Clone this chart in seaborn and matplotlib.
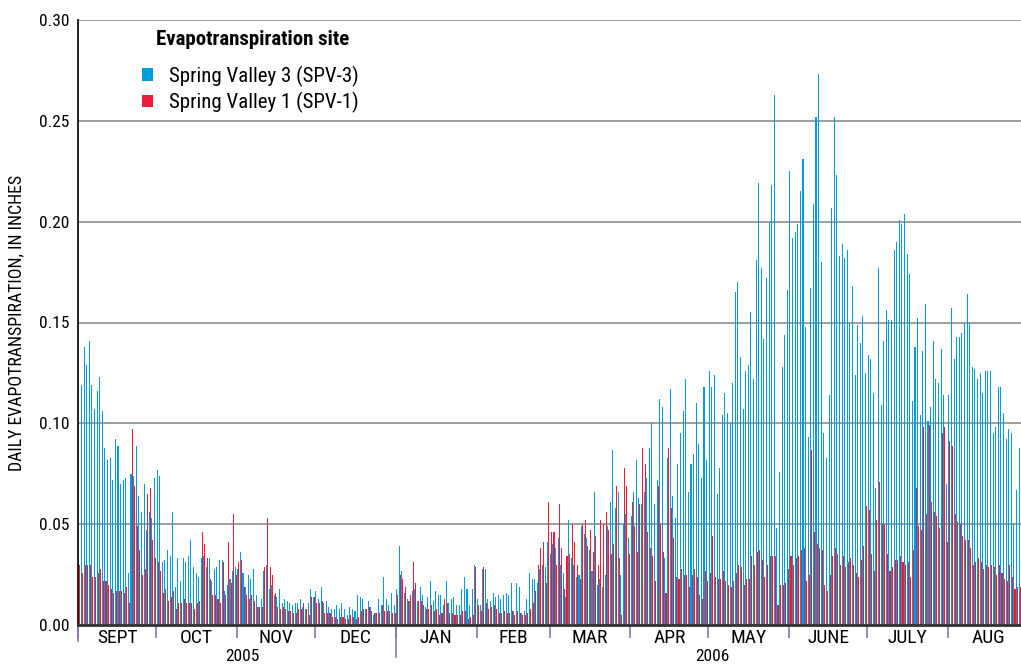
import numpy as np
import pandas as pd
import matplotlib
matplotlib.use("Agg")
import matplotlib.pyplot as plt
import matplotlib.transforms as mtransforms
from matplotlib import font_manager as fm
from matplotlib.patches import Patch
import seaborn as sns

# ---- daily evapotranspiration, inches (Sept 1, 2005 - Aug 28, 2006) ----
spv3_sep = [0.136, 0.119, 0.138, 0.129, 0.141, 0.119, 0.107, 0.116, 0.123, 0.106,
            0.088, 0.082, 0.083, 0.072, 0.092, 0.089, 0.070, 0.072, 0.073, 0.026,
            0.075, 0.074, 0.089, 0.064, 0.056, 0.070, 0.047, 0.056, 0.053, 0.073]
spv3_oct = [0.077, 0.074, 0.031, 0.032, 0.037, 0.034, 0.056, 0.019, 0.033, 0.022,
            0.033, 0.031, 0.034, 0.042, 0.029, 0.026, 0.024, 0.033, 0.034, 0.029,
            0.033, 0.022, 0.028, 0.029, 0.032, 0.032, 0.017, 0.020, 0.023, 0.027, 0.029]
spv3_nov = [0.028, 0.036, 0.026, 0.019, 0.025, 0.023, 0.028, 0.015, 0.009, 0.013,
            0.027, 0.030, 0.018, 0.020, 0.015, 0.014, 0.018, 0.011, 0.013, 0.012,
            0.011, 0.010, 0.011, 0.011, 0.013, 0.009, 0.008, 0.011, 0.018, 0.014]
spv3_dec = [0.017, 0.013, 0.019, 0.011, 0.012, 0.009, 0.008, 0.008, 0.010, 0.008,
            0.011, 0.008, 0.005, 0.009, 0.008, 0.007, 0.015, 0.014, 0.013, 0.008,
            0.012, 0.009, 0.005, 0.006, 0.013, 0.010, 0.024, 0.013, 0.010, 0.016, 0.010]
spv3_jan = [0.018, 0.039, 0.027, 0.016, 0.013, 0.012, 0.017, 0.018, 0.012, 0.019,
            0.015, 0.009, 0.014, 0.022, 0.012, 0.017, 0.015, 0.015, 0.010, 0.022,
            0.011, 0.013, 0.014, 0.010, 0.010, 0.018, 0.024, 0.018, 0.010, 0.018, 0.030]
spv3_feb = [0.013, 0.010, 0.028, 0.028, 0.013, 0.012, 0.016, 0.014, 0.015, 0.013,
            0.015, 0.016, 0.015, 0.021, 0.007, 0.021, 0.019, 0.006, 0.007, 0.013,
            0.026, 0.023, 0.023, 0.021, 0.028, 0.030, 0.029, 0.041]
spv3_mar = [0.035, 0.040, 0.038, 0.043, 0.030, 0.026, 0.014, 0.052, 0.033, 0.030,
            0.024, 0.025, 0.049, 0.045, 0.043, 0.037, 0.027, 0.066, 0.020, 0.023,
            0.019, 0.025, 0.049, 0.061, 0.087, 0.058, 0.066, 0.025, 0.050, 0.055, 0.043]
spv3_apr = [0.054, 0.066, 0.082, 0.063, 0.060, 0.066, 0.073, 0.088, 0.100, 0.060,
            0.072, 0.112, 0.108, 0.033, 0.083, 0.117, 0.064, 0.053, 0.080, 0.095,
            0.106, 0.122, 0.066, 0.080, 0.085, 0.110, 0.090, 0.073, 0.118, 0.082]
spv3_may = [0.126, 0.118, 0.124, 0.065, 0.078, 0.104, 0.115, 0.105, 0.100, 0.120,
            0.165, 0.170, 0.133, 0.107, 0.126, 0.129, 0.155, 0.122, 0.181, 0.219,
            0.177, 0.142, 0.172, 0.200, 0.218, 0.263, 0.048, 0.076, 0.128, 0.144, 0.166]
spv3_jun = [0.225, 0.192, 0.195, 0.199, 0.215, 0.231, 0.148, 0.093, 0.167, 0.209,
            0.252, 0.273, 0.180, 0.095, 0.083, 0.114, 0.207, 0.252, 0.223, 0.183,
            0.189, 0.182, 0.186, 0.150, 0.168, 0.124, 0.149, 0.140, 0.153, 0.125]
spv3_jul = [0.134, 0.132, 0.115, 0.068, 0.177, 0.109, 0.141, 0.156, 0.151, 0.151,
            0.186, 0.190, 0.201, 0.199, 0.204, 0.184, 0.174, 0.111, 0.138, 0.152,
            0.104, 0.136, 0.159, 0.101, 0.108, 0.141, 0.122, 0.120, 0.137, 0.114, 0.070]
spv3_aug = [0.114, 0.157, 0.132, 0.143, 0.143, 0.145, 0.150, 0.164, 0.150, 0.128,
            0.127, 0.122, 0.125, 0.115, 0.126, 0.126, 0.126, 0.095, 0.098, 0.118,
            0.118, 0.105, 0.092, 0.097, 0.095, 0.050, 0.067, 0.088]

spv1_sep = [0.030, 0.026, 0.030, 0.030, 0.030, 0.024, 0.024, 0.026, 0.028, 0.022,
            0.022, 0.020, 0.018, 0.016, 0.017, 0.017, 0.017, 0.016, 0.019, 0.011,
            0.097, 0.069, 0.049, 0.037, 0.025, 0.028, 0.065, 0.068, 0.042, 0.033]
spv1_oct = [0.031, 0.027, 0.016, 0.018, 0.012, 0.014, 0.017, 0.008, 0.011, 0.011,
            0.013, 0.011, 0.011, 0.011, 0.008, 0.011, 0.012, 0.046, 0.040, 0.033,
            0.023, 0.015, 0.015, 0.013, 0.011, 0.031, 0.015, 0.041, 0.021, 0.055, 0.025]
spv1_nov = [0.031, 0.032, 0.019, 0.015, 0.013, 0.015, 0.012, 0.009, 0.009, 0.009,
            0.029, 0.053, 0.029, 0.025, 0.016, 0.009, 0.008, 0.009, 0.008, 0.007,
            0.007, 0.006, 0.006, 0.008, 0.008, 0.011, 0.008, 0.005, 0.014, 0.014]
spv1_dec = [0.011, 0.011, 0.012, 0.006, 0.006, 0.006, 0.004, 0.004, 0.003, 0.004,
            0.004, 0.003, 0.003, 0.005, 0.004, 0.003, 0.004, 0.007, 0.008, 0.008,
            0.009, 0.007, 0.006, 0.006, 0.006, 0.010, 0.007, 0.007, 0.007, 0.006, 0.006]
spv1_jan = [0.015, 0.025, 0.023, 0.019, 0.012, 0.015, 0.031, 0.021, 0.012, 0.012,
            0.010, 0.008, 0.008, 0.010, 0.007, 0.008, 0.005, 0.006, 0.013, 0.011,
            0.006, 0.006, 0.005, 0.005, 0.005, 0.007, 0.007, 0.003, 0.004, 0.005, 0.029]
spv1_feb = [0.010, 0.007, 0.029, 0.011, 0.008, 0.009, 0.010, 0.008, 0.006, 0.006,
            0.007, 0.006, 0.006, 0.007, 0.005, 0.007, 0.006, 0.005, 0.005, 0.006,
            0.008, 0.011, 0.017, 0.030, 0.038, 0.041, 0.021, 0.061]
spv1_mar = [0.046, 0.046, 0.030, 0.060, 0.038, 0.018, 0.034, 0.035, 0.050, 0.041,
            0.030, 0.023, 0.050, 0.052, 0.039, 0.047, 0.036, 0.044, 0.030, 0.052,
            0.050, 0.056, 0.047, 0.035, 0.040, 0.069, 0.033, 0.005, 0.078, 0.069, 0.035]
spv1_apr = [0.061, 0.049, 0.036, 0.060, 0.088, 0.080, 0.046, 0.038, 0.034, 0.022,
            0.069, 0.050, 0.036, 0.016, 0.088, 0.058, 0.043, 0.024, 0.023, 0.028,
            0.025, 0.025, 0.019, 0.025, 0.028, 0.024, 0.015, 0.013, 0.027, 0.022]
spv1_may = [0.026, 0.044, 0.024, 0.023, 0.023, 0.027, 0.022, 0.020, 0.019, 0.022,
            0.026, 0.030, 0.029, 0.020, 0.023, 0.023, 0.034, 0.030, 0.036, 0.037,
            0.032, 0.024, 0.030, 0.034, 0.034, 0.034, 0.010, 0.020, 0.020, 0.021, 0.028]
spv1_jun = [0.034, 0.030, 0.033, 0.034, 0.037, 0.038, 0.022, 0.025, 0.087, 0.046,
            0.040, 0.038, 0.037, 0.020, 0.017, 0.025, 0.034, 0.038, 0.035, 0.030,
            0.034, 0.029, 0.031, 0.033, 0.030, 0.026, 0.024, 0.032, 0.039, 0.059]
spv1_jul = [0.057, 0.035, 0.027, 0.052, 0.071, 0.050, 0.050, 0.035, 0.027, 0.029,
            0.032, 0.032, 0.034, 0.031, 0.030, 0.031, 0.024, 0.037, 0.068, 0.049,
            0.047, 0.098, 0.055, 0.099, 0.061, 0.056, 0.054, 0.048, 0.095, 0.098, 0.041]
spv1_aug = [0.091, 0.089, 0.055, 0.051, 0.050, 0.044, 0.042, 0.042, 0.038, 0.030,
            0.031, 0.033, 0.031, 0.028, 0.030, 0.029, 0.030, 0.029, 0.025, 0.030,
            0.026, 0.023, 0.022, 0.030, 0.024, 0.018, 0.019, 0.019]

month_labels = ["SEPT", "OCT", "NOV", "DEC", "JAN", "FEB",
                "MAR", "APR", "MAY", "JUNE", "JULY", "AUG"]
month_lengths = [30, 31, 30, 31, 31, 28, 31, 30, 31, 30, 31, 31]
year_labels = ["2005", "2006"]
site_labels = ["Spring Valley 3 (SPV-3)", "Spring Valley 1 (SPV-1)"]
legend_title = "Evapotranspiration site"
y_title = "DAILY EVAPOTRANSPIRATION, IN INCHES"
y_ticks = [0.00, 0.05, 0.10, 0.15, 0.20, 0.25, 0.30]

spv3 = sum([spv3_sep, spv3_oct, spv3_nov, spv3_dec, spv3_jan, spv3_feb,
            spv3_mar, spv3_apr, spv3_may, spv3_jun, spv3_jul, spv3_aug], [])
spv1 = sum([spv1_sep, spv1_oct, spv1_nov, spv1_dec, spv1_jan, spv1_feb,
            spv1_mar, spv1_apr, spv1_may, spv1_jun, spv1_jul, spv1_aug], [])
n_days = len(spv3)
days = np.arange(n_days)

df = pd.DataFrame({
    "day": np.concatenate([days, days]),
    "et": np.concatenate([spv3, spv1]),
    "site": [site_labels[0]] * n_days + [site_labels[1]] * n_days,
})

# ---- fonts ----
available = {f.name for f in fm.fontManager.ttflist}
font = "DejaVu Sans"
for fam in ["Liberation Sans Narrow", "Roboto Condensed", "Open Sans Condensed",
            "Liberation Sans", "Roboto"]:
    if fam in available:
        font = fam
        break
plt.rcParams["font.family"] = [font, "DejaVu Sans"]

BLUE = "#009ddc"
RED = "#ed1c3a"
TICK_PURPLE = "#8f72b8"

fig = plt.figure(figsize=(10.21, 6.66), dpi=100)
ax = fig.add_axes([78 / 1021, 41 / 666, 943 / 1021, 605 / 666])

sns.barplot(data=df, x="day", y="et", hue="site", hue_order=site_labels,
            palette=[BLUE, RED], dodge=True, width=0.8, saturation=1,
            linewidth=0, errorbar=None, legend=False, ax=ax)

ax.set_ylim(0, 0.30)
ax.set_xlim(-0.55, n_days - 0.5)
ax.set_yticks(y_ticks)
ax.set_yticklabels([f"{v:.2f}" for v in y_ticks], fontsize=12.5)
ax.tick_params(axis="y", length=0, pad=6)
ax.yaxis.grid(True, color="#9e9e9e", linewidth=1.4)
ax.xaxis.grid(False)
ax.set_axisbelow(True)
ax.set_xlabel("")
ax.set_ylabel(y_title, fontsize=12.8, labelpad=10)

for side in ["top", "right"]:
    ax.spines[side].set_visible(False)
ax.spines["left"].set_color("#222222")
ax.spines["left"].set_linewidth(1.4)
ax.spines["bottom"].set_color("#333333")
ax.spines["bottom"].set_linewidth(2.0)

# month boundaries as ticks, month names centred under each month
starts = np.concatenate([[0], np.cumsum(month_lengths)[:-1]])
ax.set_xticks(starts - 0.5)
ax.set_xticklabels([])
ax.tick_params(axis="x", length=9, width=1.2, color=TICK_PURPLE)

trans = mtransforms.blended_transform_factory(ax.transData, ax.transAxes)
for lab, s, n in zip(month_labels, starts, month_lengths):
    ax.text(s - 0.5 + n / 2, -0.021, lab, transform=trans, ha="center",
            va="center", fontsize=14)

jan_start = starts[4] - 0.5
ax.plot([jan_start, jan_start], [0, -0.053], transform=trans, color=TICK_PURPLE,
        lw=1.2, clip_on=False)
ax.plot([-0.5, -0.5], [0, -0.027], transform=trans, color=TICK_PURPLE,
        lw=1.2, clip_on=False)
end_2006 = starts[-1] - 0.5 + month_lengths[-1]
ax.text((-0.5 + jan_start) / 2 + 2, -0.0525, year_labels[0], transform=trans,
        ha="center", va="center", fontsize=12.5)
ax.text((jan_start + end_2006) / 2, -0.0525, year_labels[1], transform=trans,
        ha="center", va="center", fontsize=12.5)

# legend: bold heading above two colour swatches
ax.text(0.185, 0.968, legend_title, transform=ax.transAxes, ha="center",
        va="center", fontsize=15, fontweight="bold")
handles = [Patch(facecolor=BLUE, edgecolor="none"),
           Patch(facecolor=RED, edgecolor="none")]
leg = ax.legend(handles, site_labels, loc="upper left",
                bbox_to_anchor=(0.0565, 0.942), frameon=False, fontsize=15,
                handlelength=0.55, handleheight=0.55,
                handletextpad=0.75, labelspacing=0.25, borderpad=0)

fig.savefig("out.png", dpi=100)
